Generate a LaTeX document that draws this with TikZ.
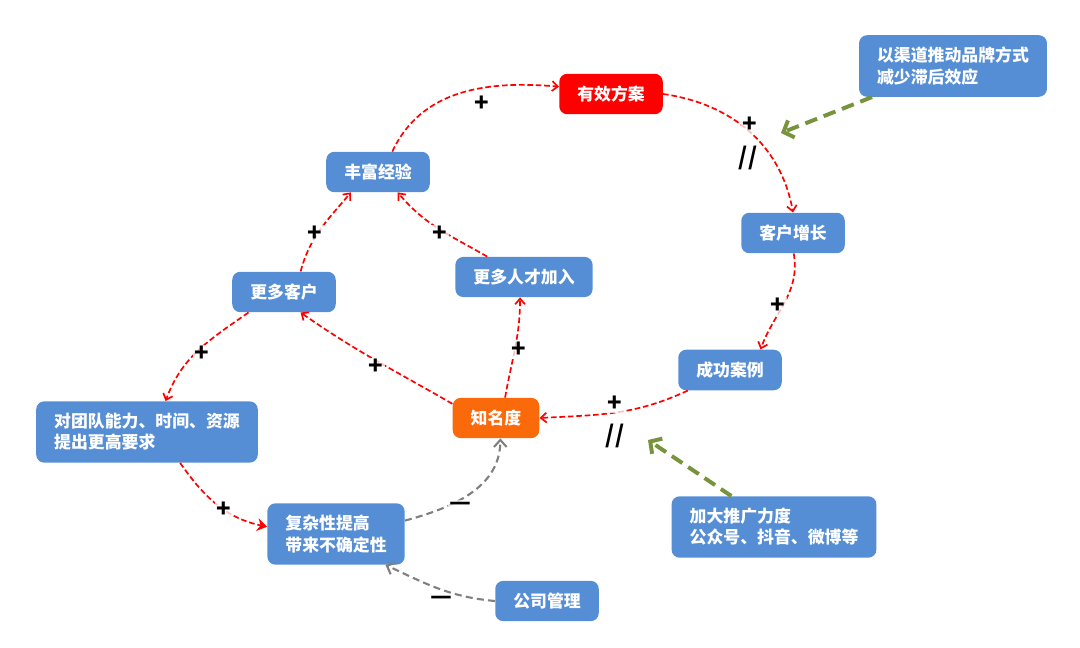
\documentclass[tikz,border=0pt]{standalone}
\usepackage{fontspec}
\setmainfont{Noto Sans CJK SC}
\usetikzlibrary{arrows.meta}
\definecolor{boxblue}{RGB}{86,142,213}
\definecolor{boxred}{RGB}{255,0,0}
\definecolor{boxorange}{RGB}{250,105,10}
\definecolor{linkgreen}{RGB}{119,147,60}
\definecolor{linkgray}{RGB}{128,128,128}
\tikzset{
  box/.style={rectangle, rounded corners=0.2cm, fill=boxblue, text=white,
    font=\fontsize{12pt}{15pt}\selectfont\bfseries, align=left,
    minimum height=1cm, inner xsep=0.45cm, inner ysep=0.3cm},
  poslink/.style={draw=boxred, dash pattern=on 4pt off 2pt, line width=1.2pt,
    -{Straight Barb[length=4pt,width=7pt]}},
  neglink/.style={draw=linkgray, dash pattern=on 5pt off 3pt, line width=1.5pt,
    -{Straight Barb[length=5pt,width=9pt]}},
  pushlink/.style={draw=linkgreen, dash pattern=on 9pt off 5pt, line width=2.8pt,
    -{Straight Barb[length=6pt,width=13pt]}},
  sign/.style={font=\fontsize{17pt}{17pt}\selectfont\bfseries, inner sep=1pt,
    fill=white, fill opacity=0.75, text opacity=1},
}
\begin{document}
\begin{tikzpicture}[x=0.025cm, y=0.025cm]
  \useasboundingbox (0,0) rectangle (1080,-648);

  % nodes
  \node[box, fill=boxred]    (fangan)   at (611,-94)  {有效方案};
  \node[box]                 (qudao)    at (953,-66)  {以渠道推动品牌方式\\减少滞后效应};
  \node[box]                 (jingyan)  at (378,-172) {丰富经验};
  \node[box]                 (kehu)     at (793,-233) {客户增长};
  \node[box]                 (gdkehu)   at (284,-292) {更多客户};
  \node[box]                 (rencai)   at (524,-277) {更多人才加入};
  \node[box]                 (anli)     at (730,-370) {成功案例};
  \node[box]                 (tuandui)  at (147,-432) {对团队能力、时间、资源\\提出更高要求};
  \node[box, fill=boxorange] (zhiming)  at (496,-418) {知名度};
  \node[box]                 (fuza)     at (336,-534) {复杂性提高\\带来不确定性};
  \node[box]                 (tuiguang) at (774,-527) {加大推广力度\\公众号、抖音、微博等};
  \node[box]                 (guanli)   at (547,-601) {公司管理};

  \coordinate (qudaoend) at (781,-133);
  \coordinate (tuiguangend) at (648,-440);

  % reinforcing links
  \draw[poslink] (jingyan.55) to[out=65, in=175] (fangan.172);
  \draw[poslink] (fangan.east) to[out=-8, in=100] (kehu.north);
  \draw[poslink] (kehu.-88) to[out=-80, in=70] (anli.34);
  \draw[poslink] (anli.206) to[out=-155, in=3] (zhiming.east);
  \draw[poslink] (zhiming.162) to[out=150, in=-35] (gdkehu.-51);
  \draw[poslink] (zhiming.66) to[out=80, in=-90] (rencai.-101);
  \draw[poslink] (rencai.151) to[out=150, in=-50] (jingyan.-46);
  \draw[poslink] (gdkehu.51) to[out=75, in=-130] (jingyan.-143);
  \draw[poslink] (gdkehu.210) to[out=-145, in=70] (tuandui.59);
  \draw[poslink, -{Stealth[length=7pt,width=9pt]}] (tuandui.-43) to[out=-55, in=168] (fuza.174);

  % balancing links
  \draw[neglink] (fuza.11) to[out=15, in=-90] (zhiming.-78);
  \draw[neglink] (guanli.west) to[out=175, in=-25] (fuza.-32);

  % outside pushes
  \draw[pushlink] (qudao.201) -- (qudaoend);
  \draw[pushlink] (tuiguang.144) -- (tuiguangend);

  % signs
  \node[sign] (s1)  at (482,-104) {+};
  \node[sign] (s2)  at (750,-125) {+};
  \node[sign] (s3)  at (778,-306) {+};
  \node[sign] (s4)  at (615,-404) {+};
  \node[sign] (s5)  at (376,-367) {+};
  \node[sign] (s6)  at (519,-350) {+};
  \node[sign] (s7)  at (440,-234) {+};
  \node[sign] (s8)  at (315,-234) {+};
  \node[sign] (s9)  at (202,-354) {+};
  \node[sign] (s10) at (224,-510) {+};
  \node[sign] (d1)  at (748,-158) {//};
  \node[sign] (d2)  at (615,-436) {//};
  \node[sign] (m1)  at (460,-506) {—};
  \node[sign] (m2)  at (441,-600) {—};
\end{tikzpicture}
\end{document}
